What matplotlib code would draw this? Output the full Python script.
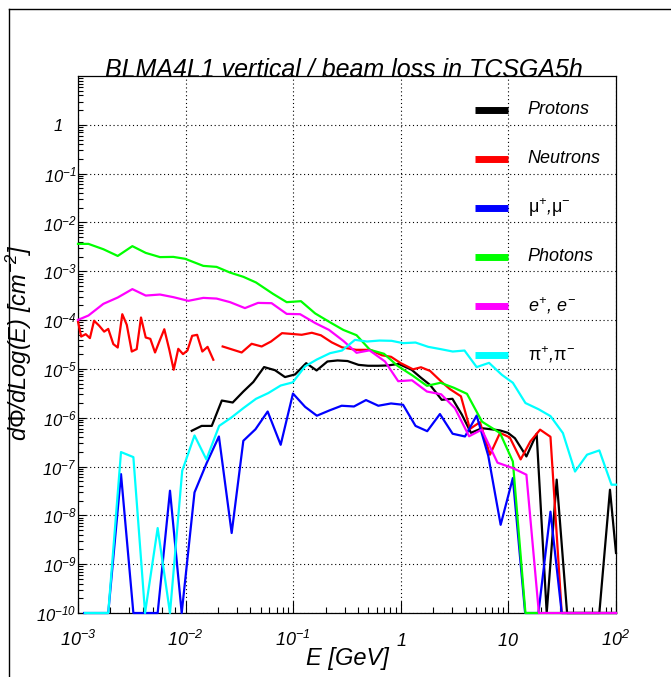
import matplotlib
matplotlib.use('Agg')
import matplotlib.pyplot as plt
import numpy as np
from matplotlib.lines import Line2D
from matplotlib.transforms import ScaledTranslation
from matplotlib.ticker import FixedLocator, LogLocator, FuncFormatter, NullFormatter

plt.rcParams['font.family'] = 'Liberation Sans'
plt.rcParams['mathtext.fontset'] = 'custom'
plt.rcParams['mathtext.rm'] = 'Liberation Sans:italic'
plt.rcParams['mathtext.it'] = 'Liberation Sans:italic'
plt.rcParams['mathtext.sf'] = 'Liberation Sans'
plt.rcParams['mathtext.default'] = 'it'

# energies in GeV, fluence in cm^-2 (0 = empty bin, drawn on the axis floor)
proton_E = [1.14e-2, 1.41e-2, 1.75e-2, 2.17e-2, 2.74e-2, 3.44e-2, 4.26e-2, 5.36e-2, 6.78e-2, 8.39e-2,
            0.104, 0.132, 0.165, 0.208, 0.258, 0.320, 0.405, 0.496, 0.618, 0.769, 0.953,
            1.26, 1.54, 1.87, 2.40, 3.02, 3.70, 4.49, 5.68, 6.89, 8.35, 9.91,
            11.5, 14.7, 18.3, 22.7, 28.1, 35.1, 44.4, 56.1, 70.0, 87.9, 100]
proton_flux = [5.4e-7, 6.8e-7, 6.8e-7, 2.25e-6, 2.05e-6, 3.44e-6, 5.4e-6, 1.09e-5, 9.4e-6, 6.8e-6,
               7.7e-6, 1.31e-5, 9.3e-6, 1.42e-5, 1.49e-5, 1.45e-5, 1.21e-5, 1.16e-5, 1.16e-5, 1.18e-5, 1.27e-5,
               9.6e-6, 6.6e-6, 4.7e-6, 2.33e-6, 2.44e-6, 1.15e-6, 4.9e-7, 6.1e-7, 5.8e-7, 5.5e-7, 4.9e-7,
               3.8e-7, 1.61e-7, 4.7e-7, 0, 5.4e-8, 0, 0, 0, 0, 3.35e-8, 1.7e-9]

neutron_low_E = [1.0e-3, 1.07e-3, 1.18e-3, 1.29e-3, 1.41e-3, 1.57e-3, 1.75e-3, 1.91e-3, 2.13e-3, 2.34e-3,
                 2.58e-3, 2.84e-3, 3.16e-3, 3.51e-3, 3.85e-3, 4.26e-3, 4.70e-3, 5.20e-3, 5.78e-3, 6.34e-3,
                 7.06e-3, 7.75e-3, 8.55e-3, 9.46e-3, 1.04e-2, 1.15e-2, 1.28e-2, 1.43e-2, 1.60e-2, 1.81e-2]
neutron_low_flux = [9.3e-5, 4.6e-5, 5.15e-5, 4.27e-5, 9.7e-5, 7.7e-5, 5.8e-5, 6.6e-5, 3.22e-5, 2.74e-5,
                    1.32e-4, 8.0e-5, 2.27e-5, 2.54e-5, 1.13e-4, 4.4e-5, 4.13e-5, 2.17e-5, 3.94e-5, 6.5e-5,
                    2.46e-5, 9.6e-6, 2.58e-5, 2.01e-5, 2.38e-5, 4.76e-5, 4.99e-5, 2.27e-5, 2.83e-5, 1.54e-5]
neutron_E = [2.21e-2, 3.32e-2, 4.11e-2, 5.09e-2, 6.22e-2, 7.87e-2, 9.75e-2, 0.120, 0.149, 0.181,
             0.228, 0.284, 0.384, 0.518, 0.669, 0.811, 1.00, 1.30, 1.54, 1.87,
             2.40, 2.86, 3.62, 4.39, 5.44, 6.74, 8.36, 10.3, 13.0, 16.0, 19.7, 24.6, 31.3, 100]
neutron_flux = [2.88e-5, 2.17e-5, 3.27e-5, 2.88e-5, 3.64e-5, 5.4e-5, 5.2e-5, 5.0e-5, 5.5e-5, 4.88e-5,
                3.5e-5, 2.77e-5, 2.46e-5, 2.46e-5, 1.9e-5, 1.77e-5, 1.31e-5, 9.8e-6, 1.08e-5, 9.1e-6,
                5.4e-6, 3.86e-6, 2.75e-6, 5.9e-7, 8.1e-7, 1.75e-7, 4.9e-7, 3.94e-7, 1.40e-7, 3.27e-7,
                5.7e-7, 4.07e-7, 0, 0]

muon_E = [1.14e-3, 1.47e-3, 1.91e-3, 2.51e-3, 3.27e-3, 4.24e-3, 5.5e-3, 7.16e-3, 9.2e-3,
          1.21e-2, 1.57e-2, 2.04e-2, 2.68e-2, 3.44e-2, 4.46e-2, 5.79e-2, 7.65e-2, 9.95e-2,
          0.129, 0.166, 0.217, 0.282, 0.367, 0.475, 0.618, 0.811, 1.05, 1.37, 1.76, 2.31,
          3.03, 3.95, 5.07, 6.50, 8.47, 11.0, 14.3, 19.0, 24.6, 31.3, 100]
muon_flux = [0, 0, 0, 7.0e-8, 0, 0, 0, 3.2e-8, 0,
             2.95e-8, 1.18e-7, 4.13e-7, 4.35e-9, 3.37e-7, 5.8e-7, 1.34e-6, 2.79e-7, 3.13e-6,
             1.67e-6, 1.10e-6, 1.41e-6, 1.76e-6, 1.70e-6, 2.30e-6, 1.76e-6, 1.96e-6, 1.84e-6, 6.8e-7, 5.3e-7, 1.19e-6,
             4.7e-7, 4.13e-7, 1.11e-6, 1.66e-7, 6.4e-9, 5.8e-8, 0, 0, 1.19e-8, 0, 0]

photon_E = [1.0e-3, 1.25e-3, 1.72e-3, 2.34e-3, 3.2e-3, 4.26e-3, 5.78e-3, 7.69e-3, 9.9e-3,
            1.46e-2, 1.94e-2, 2.59e-2, 3.44e-2, 4.51e-2, 6.49e-2, 8.7e-2, 0.118, 0.160, 0.220,
            0.292, 0.388, 0.517, 0.698, 0.931, 1.30, 1.75, 2.34, 3.12, 4.12, 5.69, 8.36,
            11.0, 14.4, 100]
photon_flux = [3.64e-3, 3.64e-3, 2.83e-3, 2.06e-3, 3.27e-3, 2.38e-3, 1.95e-3, 1.97e-3, 1.80e-3,
               1.29e-3, 1.23e-3, 9.4e-4, 7.7e-4, 5.9e-4, 3.45e-4, 2.33e-4, 2.44e-4, 1.37e-4, 9.0e-5,
               6.3e-5, 4.9e-5, 2.46e-5, 2.04e-5, 1.16e-5, 7.2e-6, 4.5e-6, 5.2e-6, 4.1e-6, 3.09e-6, 8.3e-7, 4.85e-7,
               1.27e-7, 0, 0]

electron_E = [1.0e-3, 1.25e-3, 1.72e-3, 2.34e-3, 3.2e-3, 4.26e-3, 5.78e-3, 7.69e-3, 1.06e-2,
              1.46e-2, 1.94e-2, 2.59e-2, 3.56e-2, 4.71e-2, 6.3e-2, 8.7e-2, 0.116, 0.160, 0.215,
              0.292, 0.388, 0.512, 0.713, 0.946, 1.27, 1.75, 2.37, 3.19, 4.31, 5.65, 7.92,
              11.0, 14.7, 19.2, 100]
electron_flux = [1.01e-4, 1.24e-4, 2.15e-4, 2.90e-4, 4.31e-4, 3.18e-4, 3.34e-4, 2.95e-4, 2.48e-4,
                 2.85e-4, 2.76e-4, 2.33e-4, 1.76e-4, 2.25e-4, 2.22e-4, 1.34e-4, 1.32e-4, 8.7e-5, 6.3e-5,
                 3.76e-5, 2.14e-5, 2.40e-5, 1.42e-5, 5.6e-6, 5.85e-6, 3.44e-6, 3.02e-6, 1.56e-6, 4.17e-7, 5.7e-7, 1.20e-7,
                 9.3e-8, 6.8e-8, 0, 0]

pion_E = [1.16e-3, 1.49e-3, 1.91e-3, 2.51e-3, 3.27e-3, 4.2e-3, 5.5e-3, 7.16e-3, 9.3e-3,
          1.21e-2, 1.56e-2, 2.05e-2, 2.68e-2, 3.44e-2, 4.51e-2, 5.87e-2, 7.65e-2, 9.9e-2,
          0.129, 0.166, 0.220, 0.284, 0.375, 0.485, 0.634, 0.822, 1.05, 1.37, 1.80, 2.35,
          3.04, 3.91, 5.07, 6.61, 8.67, 11.0, 14.4, 19.1, 24.6, 32.1, 41.6, 53.8, 70.0, 90.8, 100]
pion_flux = [0, 0, 0, 1.98e-7, 1.56e-7, 0, 5.5e-9, 0, 8.2e-8,
             4.33e-7, 1.40e-7, 6.8e-7, 1.02e-6, 1.57e-6, 2.44e-6, 3.20e-6, 4.57e-6, 5.3e-6,
             1.13e-5, 1.56e-5, 2.10e-5, 2.38e-5, 3.94e-5, 3.64e-5, 3.81e-5, 3.76e-5, 3.37e-5, 3.47e-5, 2.83e-5, 2.54e-5,
             2.27e-5, 2.38e-5, 1.09e-5, 1.33e-5, 7.6e-6, 5.2e-6, 2.0e-6, 1.49e-6, 1.08e-6, 4.85e-7, 7.9e-8, 1.75e-7,
             2.14e-7, 4.25e-8, 4.25e-8]

labels = ['Protons', 'Neutrons', r'$\mathsf{\mu}^{+}$,$\mathsf{\mu}^{-}$', 'Photons',
          r'$e^{+}$, $e^{-}$', r'$\mathsf{\pi}^{+}$,$\mathsf{\pi}^{-}$']
colors = ['#000000', '#ff0000', '#0000ff', '#00ff00', '#ff00ff', '#00ffff']

YMIN, YMAX = 1e-10, 10.0
W, H = 671, 677

fig = plt.figure(figsize=(W / 100, H / 100), dpi=100)
fig.patch.set_facecolor('white')
# plot frame in pixels: left 78, right 616, top 76, bottom 613
ax = fig.add_axes([78 / W, 1 - 613 / H, 538 / W, 537 / H])
ax.set_xscale('log')
ax.set_yscale('log')


def floor(v):
    v = np.asarray(v, dtype=float)
    return np.where(v > 0, v, YMIN)


series = [
    [(proton_E, proton_flux)],
    [(neutron_low_E, neutron_low_flux), (neutron_E, neutron_flux)],
    [(muon_E, muon_flux)],
    [(photon_E, photon_flux)],
    [(electron_E, electron_flux)],
    [(pion_E, pion_flux)],
]
for parts, col in zip(series, colors):
    for e, f in parts:
        ax.plot(e, floor(f), color=col, lw=1.6, clip_on=False, zorder=3)

ax.set_xlim(1e-3, 1e2)
ax.set_ylim(YMIN, YMAX)


def pow_label(v, pos):
    k = int(round(np.log10(v)))
    if k == 0:
        return '$1$'
    if k == 1:
        return '$10$'
    return r'$10^{%d}$' % k


ax.xaxis.set_major_locator(FixedLocator([1e-3, 1e-2, 1e-1, 1, 10, 100]))
ax.xaxis.set_minor_locator(LogLocator(base=10, subs=np.arange(2, 10), numticks=100))
ax.xaxis.set_major_formatter(FuncFormatter(pow_label))
ax.xaxis.set_minor_formatter(NullFormatter())

ylabs = [10.0 ** k for k in range(-10, 1)]
ax.yaxis.set_major_locator(FixedLocator(ylabs))
ax.yaxis.set_minor_locator(LogLocator(base=10, subs=np.arange(2, 10), numticks=100))
ax.yaxis.set_major_formatter(FuncFormatter(pow_label))
ax.yaxis.set_minor_formatter(NullFormatter())

ax.tick_params(which='both', direction='in', top=False, right=False, width=0.8)
ax.tick_params(axis='x', which='major', length=8.5, pad=23.5, labelsize=13)
ax.tick_params(axis='x', which='minor', length=4)
ax.tick_params(axis='y', which='major', length=6, pad=1, labelsize=12)
ax.tick_params(axis='y', which='minor', length=3.5)
for lab in ax.get_xticklabels():
    lab.set_verticalalignment('baseline')

# ROOT lines the plain "1" up with the mantissas of the 10^n labels
for lab in ax.get_yticklabels():
    if lab.get_text() == '$1$':
        lab.set_transform(lab.get_transform() + ScaledTranslation(-0.14, 0, fig.dpi_scale_trans))

ax.grid(True, which='major', color='black', linestyle=(0, (1, 2.5)), lw=0.8)
for sp in ax.spines.values():
    sp.set_linewidth(0.9)

# legend, ROOT style without box
leg_x0, leg_x1, leg_tx = 0.738, 0.799, 0.836
leg_top, leg_step = 0.9367, 0.0912
for i, (lab, col) in enumerate(zip(labels, colors)):
    yy = leg_top - i * leg_step
    ax.plot([leg_x0, leg_x1], [yy, yy], transform=ax.transAxes, color=col, lw=5,
            solid_capstyle='butt', zorder=4)
    ax.text(leg_tx, yy, lab, transform=ax.transAxes, fontsize=13, style='italic',
            va='center', ha='left')

fig.text(344 / W, 1 - 77 / H, 'BLMA4L1 vertical / beam loss in TCSGA5h', ha='center',
         va='baseline', fontsize=18, style='italic')
fig.text(347 / W, 1 - 665 / H, 'E [GeV]', ha='center', va='baseline', fontsize=17,
         style='italic')
fig.text(34 / W, 1 - 343 / H, r'$d\mathsf{\Phi}/dLog(E)\ [cm^{-2}]$', rotation=90,
         ha='right', va='center', fontsize=17)

# canvas border
fig.add_artist(Line2D([9 / W, 9 / W], [0, 1 - 9 / H], transform=fig.transFigure,
                      color='black', lw=1))
fig.add_artist(Line2D([9 / W, 1], [1 - 9 / H, 1 - 9 / H], transform=fig.transFigure,
                      color='black', lw=1))

fig.savefig('out.png', dpi=100)
